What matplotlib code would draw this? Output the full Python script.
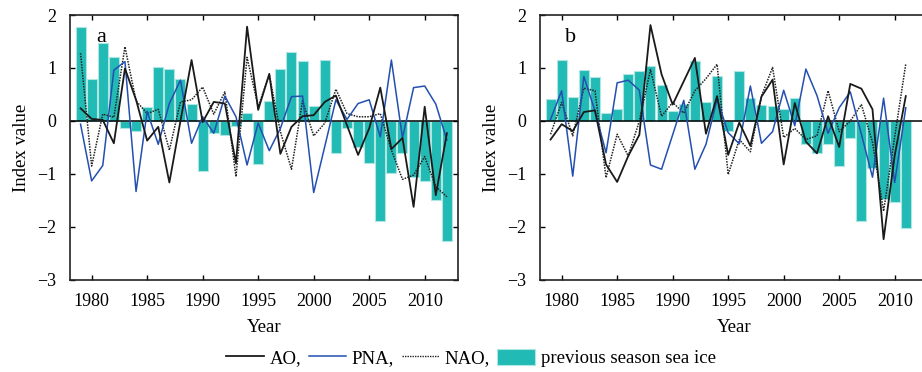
import numpy as np
import matplotlib
matplotlib.use("Agg")
import matplotlib.pyplot as plt
from matplotlib.lines import Line2D
from matplotlib.patches import Patch

plt.rcParams["font.family"] = ["Liberation Serif", "DejaVu Serif"]

# DATA

years_a = np.arange(1979, 2013)
ice_a = [1.77, 0.79, 1.47, 1.21, -0.14, -0.19, 0.26, 1.01, 0.99, 0.79, 0.32, -0.95,
         -0.22, -0.26, -0.09, 0.15, -0.81, 0.37, 0.98, 1.30, 1.13, 0.28, 1.15,
         -0.61, -0.14, -0.49, -0.80, -1.88, -0.99, -0.60, -1.05, -1.14, -1.49, -2.26]
ao_a = [0.24, 0.04, 0.02, -0.42, 0.99, 0.40, -0.37, -0.11, -1.16, 0.0, 1.15, -0.02,
        0.36, 0.33, -0.80, 1.78, 0.21, 0.89, -0.62, -0.11, 0.09, 0.11, 0.36,
        0.48, -0.08, -0.64, -0.14, 0.63, -0.53, -0.32, -1.62, 0.27, -1.40, -0.23]
pna_a = [-0.06, -1.13, -0.84, 0.96, 1.12, -1.33, 0.18, -0.44, 0.33, 0.77, -0.42, 0.08,
         -0.23, 0.47, 0.08, -0.83, -0.04, -0.56, -0.14, 0.46, 0.47, -1.35, -0.48,
         0.40, 0.03, 0.33, 0.40, -0.30, 1.15, -0.32, 0.63, 0.66, 0.32, -0.36]
nao_a = [1.28, -0.85, 0.13, 0.07, 1.40, 0.38, 0.14, 0.22, -0.55, 0.36, 0.40, 0.64,
         0.13, 0.55, -1.05, 1.20, 0.27, 0.87, -0.20, -0.91, 0.38, -0.28, -0.04,
         0.60, 0.14, 0.08, 0.08, 0.14, -0.55, -1.10, -1.02, -0.67, -1.24, -1.43]

years_b = np.arange(1979, 2012)
ice_b = [0.41, 1.16, 0.45, 0.96, 0.83, 0.15, 0.23, 0.89, 0.95, 1.03, 0.68, 0.19,
         0.33, 1.14, 0.36, 0.84, -0.18, 0.94, 0.43, 0.31, 0.28, 0.23, 0.43,
         -0.43, -0.61, -0.44, -0.85, -0.33, -1.89, -0.89, -1.48, -1.53, -2.01]
ao_b = [-0.35, -0.06, -0.19, 0.17, 0.20, -0.82, -1.15, -0.66, -0.26, 1.81, 0.88, 0.31,
        0.75, 1.19, -0.24, 0.47, -0.64, -0.03, -0.47, 0.46, 0.78, -0.82, 0.34,
        -0.39, -0.61, 0.09, -0.49, 0.70, 0.61, 0.22, -2.23, -0.65, 0.47]
pna_b = [0.03, 0.57, -1.04, 0.84, 0.19, -0.60, 0.72, 0.77, 0.58, -0.83, -0.91, -0.26,
         0.39, -0.91, -0.44, 0.41, -0.22, -0.43, 0.66, -0.42, -0.20, 0.58, -0.09,
         0.98, 0.48, -0.23, 0.25, 0.55, -0.25, -1.06, 0.43, -1.16, 0.25]
nao_b = [-0.25, 0.35, -0.28, 0.62, 0.57, -1.07, -0.25, -0.66, 0.0, 0.97, 0.09, 0.35,
         0.15, 0.57, 0.80, 1.07, -1.01, -0.35, -0.58, 0.47, 1.01, -0.31, -0.14,
         -0.35, -0.28, 0.57, -0.20, 0.0, 0.31, -0.40, -1.70, -0.30, 1.08]

panels = [
    ("a", years_a, ice_a, ao_a, pna_a, nao_a),
    ("b", years_b, ice_b, ao_b, pna_b, nao_b),
]

BAR_COLOR = "#22bab5"
BAR_EDGE = "#aee6e2"
PNA_COLOR = "#2350b0"

# PLOT

fig = plt.figure(figsize=(9.22, 3.72), dpi=100)
ax_pos = [[70 / 922, 92 / 372, 388 / 922, 265 / 372],
          [540 / 922, 92 / 372, 388 / 922, 265 / 372]]

for pos, (tag, yrs, ice, ao, pna, nao) in zip(ax_pos, panels):
    ax = fig.add_axes(pos)
    ax.bar(yrs, ice, width=0.9, color=BAR_COLOR, edgecolor=BAR_EDGE,
           linewidth=0.8, zorder=1)
    ax.axhline(0, color="black", linewidth=1.1, zorder=2)
    ax.plot(yrs, nao, color="#222222", linestyle=(0, (1, 0.8)),
            linewidth=1.1, zorder=3)
    ax.plot(yrs, pna, color=PNA_COLOR, linewidth=1.1, zorder=4)
    ax.plot(yrs, ao, color="#1a1a1a", linewidth=1.3, zorder=5)

    ax.set_xlim(1978.05, 2013.0)
    ax.set_ylim(-3, 2)
    ax.set_xticks([1980, 1985, 1990, 1995, 2000, 2005, 2010])
    ax.set_yticks([-3, -2, -1, 0, 1, 2])
    ax.set_yticklabels(["\u22123", "\u22122", "\u22121", "0", "1", "2"])
    ax.tick_params(direction="in", length=3.5, width=1, labelsize=13,
                   top=True, right=True)
    ax.tick_params(axis="x", pad=9)
    ax.tick_params(axis="y", pad=10)
    for sp in ax.spines.values():
        sp.set_linewidth(1.2)
        sp.set_color("#222222")
    ax.set_xlabel("Year", fontsize=13.5, labelpad=7)
    ax.set_ylabel("Index value", fontsize=13.5, labelpad=5)
    ax.text(0.08, 0.915, tag, transform=ax.transAxes, fontsize=16,
            ha="center", va="center")

handles = [
    Line2D([], [], color="#1a1a1a", linewidth=1.3),
    Line2D([], [], color=PNA_COLOR, linewidth=1.1),
    Line2D([], [], color="#222222", linestyle=(0, (1, 0.8)), linewidth=1.0),
    Patch(facecolor=BAR_COLOR, edgecolor=BAR_EDGE, linewidth=0.8),
]
labels = ["AO,", "PNA,", "NAO,", "previous season sea ice"]
fig.legend(handles, labels, loc="center", bbox_to_anchor=(471 / 922, 14 / 372),
           ncol=4, frameon=False, fontsize=13.5, handlelength=2.0,
           handletextpad=0.3, columnspacing=0.4, handleheight=1.0)

fig.savefig("out.png", dpi=100)
